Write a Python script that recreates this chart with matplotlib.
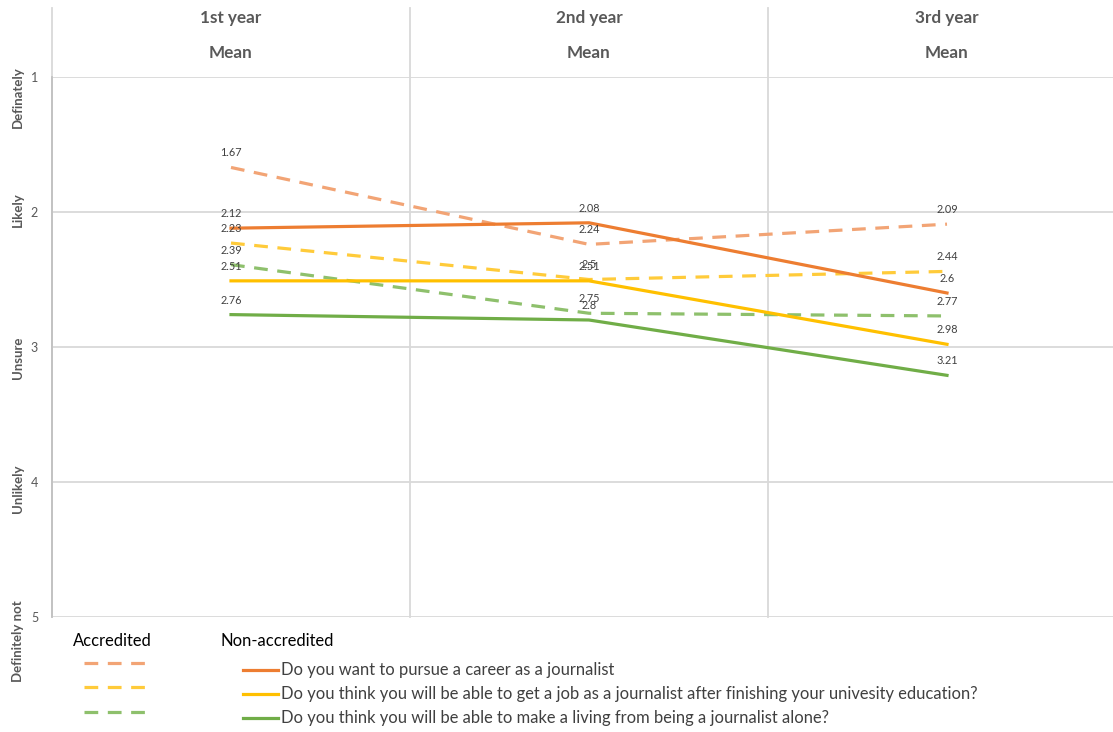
import matplotlib

matplotlib.use("Agg")
import matplotlib.pyplot as plt
from matplotlib.lines import Line2D
from matplotlib.transforms import blended_transform_factory

plt.rcParams["font.family"] = ["Lato", "DejaVu Sans"]

years = ["1st year", "2nd year", "3rd year"]
y_ticks = [1, 2, 3, 4, 5]
y_names = ["Definately", "Likely", "Unsure", "Unlikely", "Definitely not"]
y_name_pos = [1.15, 1.98, 3.08, 4.05, 5.18]

questions = [
    "Do you want to pursue a career as a journalist",
    "Do you think you will be able to get a job as a journalist after finishing your univesity education?",
    "Do you think you will be able to make a living from being a journalist alone?",
]
non_accredited = [
    [2.12, 2.08, 2.6],
    [2.51, 2.51, 2.98],
    [2.76, 2.8, 3.21],
]
accredited = [
    [1.67, 2.24, 2.09],
    [2.23, 2.5, 2.44],
    [2.39, 2.75, 2.77],
]
solid_colors = ["#ED7D31", "#FFC000", "#70AD47"]
dashed_colors = ["#F2A475", "#FFCB3A", "#8EC06C"]

W, H = 1113, 732
fig = plt.figure(figsize=(W / 100, H / 100), dpi=100)


def px(x, y):
    return x / W, 1 - y / H


# axes spans column area; right edge runs past the figure like the original crop
left, right, top, bottom = 52, 1126, 77, 617
ax = fig.add_axes([left / W, 1 - bottom / H, (right - left) / W, (bottom - top) / H])
ax.set_xlim(0, 3)
ax.set_ylim(5, 1)
for s in ["top", "right", "bottom"]:
    ax.spines[s].set_visible(False)
ax.spines["left"].set_color("#BFBFBF")
ax.spines["left"].set_linewidth(1.2)

grid = "#D9D9D9"
for t in y_ticks:
    ax.axhline(t, color=grid, lw=1.3, zorder=0)
extra = 1 + (top - 8) / (bottom - top)
for xv in [0, 1, 2]:
    ax.axvline(xv, ymin=0, ymax=extra, color=grid, lw=1.3, zorder=0, clip_on=False)

ax.set_xticks([])
ax.set_yticks(y_ticks)
ax.set_yticklabels([str(t) for t in y_ticks])
ax.tick_params(axis="y", length=0, pad=10, labelsize=9, labelcolor="#595959")

xs = [0.5, 1.5, 2.5]
xtr = ax.get_xaxis_transform()
for x, yr in zip(xs, years):
    ax.text(x, 1 + (top - 18) / (bottom - top), yr, transform=xtr, ha="center", va="center",
            fontsize=12.3, fontweight="bold", color="#595959")
    ax.text(x, 1 + (top - 53) / (bottom - top), "Mean", transform=xtr, ha="center", va="center",
            fontsize=12.3, fontweight="bold", color="#595959")

tr = blended_transform_factory(fig.transFigure, ax.transData)
for name, yp in zip(y_names, y_name_pos):
    fig.text(18 / W, yp, name, transform=tr, rotation=90, ha="center", va="center",
             fontsize=9.5, fontweight="bold", color="#595959")

lw = 2.3
for vals, c in zip(accredited, dashed_colors):
    ax.plot(xs, vals, color=c, lw=lw, dashes=(4.3, 3), solid_capstyle="round")
for vals, c in zip(non_accredited, solid_colors):
    ax.plot(xs, vals, color=c, lw=lw)

for series in accredited + non_accredited:
    for x, v in zip(xs, series):
        ax.annotate(f"{v:g}", (x, v), xytext=(0, 10.5), textcoords="offset points",
                    ha="center", va="center", fontsize=7.8, color="#404040")

# legend, drawn by hand
fig.text(*px(73, 641), "Accredited", ha="left", va="center", fontsize=11.9, color="black")
fig.text(*px(220, 641), "Non-accredited", ha="left", va="center", fontsize=11.9, color="black")
for c, yy in zip(dashed_colors, [663, 687, 712]):
    x0, y0 = px(84, yy)
    x1, _ = px(146, yy)
    fig.add_artist(Line2D([x0, x1], [y0, y0], transform=fig.transFigure, color=c,
                          lw=lw, dashes=(4.3, 3)))
for c, q, yy in zip(solid_colors, questions, [670, 694, 718]):
    x0, y0 = px(243, yy)
    x1, _ = px(278, yy)
    fig.add_artist(Line2D([x0, x1], [y0, y0], transform=fig.transFigure, color=c, lw=lw))
    fig.text(*px(281, yy), q, ha="left", va="center", fontsize=11.9, color="#404040")

fig.savefig("out.png", dpi=100)
